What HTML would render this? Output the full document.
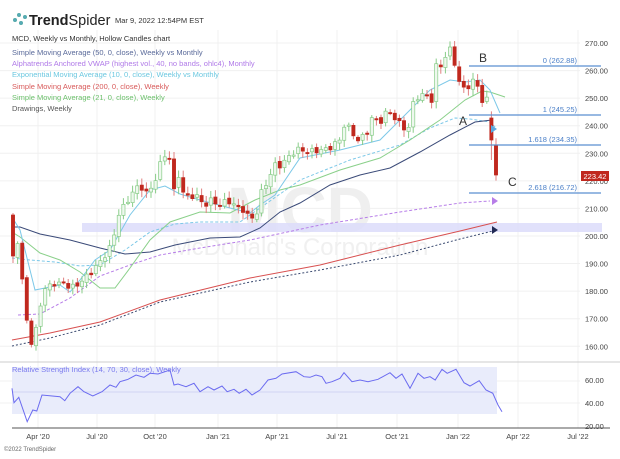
<!DOCTYPE html>
<html><head><meta charset="utf-8"><style>
body{margin:0;background:#fff;width:620px;height:454px;overflow:hidden;font-family:"Liberation Sans",sans-serif}
</style></head><body>
<svg id="s" width="620" height="454" xmlns="http://www.w3.org/2000/svg" font-family="Liberation Sans, sans-serif">
<g stroke="#f0f0f0" stroke-width="1" id="grid"></g>
<text x="300" y="232" font-size="64" font-weight="bold" fill="#efefef" text-anchor="middle">MCD</text>
<text x="300" y="255" font-size="24" fill="#f0f0f0" text-anchor="middle">McDonald's Corporation</text>
<rect x="82" y="223" width="520" height="9" fill="#dcdcfa" opacity="0.85"/>
<g id="ma" fill="none"></g>
<g id="c"></g>
<g stroke="#5b8fd0" stroke-width="1.2">
<line x1="469" y1="66" x2="601" y2="66"/><line x1="469" y1="115" x2="601" y2="115"/>
<line x1="469" y1="145" x2="601" y2="145"/><line x1="469" y1="193" x2="601" y2="193"/>
</g>
<g font-size="7.5" fill="#4a7fc8" text-anchor="end">
<text x="577" y="63">0 (262.88)</text><text x="577" y="112">1 (245.25)</text>
<text x="577" y="142">1.618 (234.35)</text><text x="577" y="190">2.618 (216.72)</text>
</g>
<g font-size="12" fill="#333"><text x="459" y="125">A</text><text x="479" y="62">B</text><text x="508" y="186">C</text></g>
<polygon points="491,125 491,133 497,129" fill="#5aa8e0"/>
<polygon points="492,197 492,205 498,201" fill="#b77de8"/>
<polygon points="492,226 492,234 498,230" fill="#222a55"/>
<g font-size="7.5" fill="#444" id="pax"></g>
<rect x="581" y="171" width="28" height="10" fill="#c0281e"/>
<text x="595" y="179" font-size="7.5" fill="#fff" text-anchor="middle">223.42</text>
<line x1="0" y1="362" x2="620" y2="362" stroke="#ccc"/>
<rect x="12" y="367" width="485" height="47" fill="#e9ecfb"/>
<line x1="12" y1="392" x2="497" y2="392" stroke="#c9ccf0" stroke-width="0.8"/>
<polyline id="rsi" fill="none" stroke="#6b6bf0" stroke-width="1"/>
<text x="12" y="372" font-size="7.5" fill="#7a7aee">Relative Strength Index (14, 70, 30, close), Weekly</text>
<g font-size="7.5" fill="#444"><text x="585" y="383">60.00</text><text x="585" y="406">40.00</text><text x="585" y="429">20.00</text></g>
<line x1="12" y1="428" x2="610" y2="428" stroke="#555" stroke-width="1"/>
<g font-size="7.5" fill="#444" text-anchor="middle" id="dax"></g>
<text x="4" y="451" font-size="6" fill="#666">©2022 TrendSpider</text>
<g stroke="#5aa" stroke-width="1" fill="#5ab">
<circle cx="15" cy="20" r="1.5"/><circle cx="19" cy="15" r="1.5"/><circle cx="21" cy="23" r="1.5"/><circle cx="25" cy="17" r="1.5"/>
</g>
<text x="29" y="25" font-size="14.5" font-weight="bold" fill="#222">Trend<tspan font-weight="normal">Spider</tspan></text>
<text x="115" y="23" font-size="7.5" fill="#333">Mar 9, 2022 12:54PM EST</text>
<g font-size="7.5">
<text x="12" y="41" fill="#333">MCD, Weekly vs Monthly, Hollow Candles chart</text>
<text x="12" y="55" fill="#5a6a9a">Simple Moving Average (50, 0, close), Weekly vs Monthly</text>
<text x="12" y="66" fill="#b07ae8">Alphatrends Anchored VWAP (highest vol., 40, no bands, ohlc4), Monthly</text>
<text x="12" y="77" fill="#6cc8e0">Exponential Moving Average (10, 0, close), Weekly vs Monthly</text>
<text x="12" y="89" fill="#d85a5a">Simple Moving Average (200, 0, close), Weekly</text>
<text x="12" y="100" fill="#6cc06c">Simple Moving Average (21, 0, close), Weekly</text>
<text x="12" y="111" fill="#555">Drawings, Weekly</text>
</g>
</svg>
<script>
(function(){
var NS="http://www.w3.org/2000/svg";
function el(p,t,a){var e=document.createElementNS(NS,t);for(var k in a)e.setAttribute(k,a[k]);p.appendChild(e);return e;}
var g=document.getElementById('grid');
var dx=[38,97,155,218,277,337,397,458,518,578],dl=["Apr '20","Jul '20","Oct '20","Jan '21","Apr '21","Jul '21","Oct '21","Jan '22","Apr '22","Jul '22"];
dx.forEach(function(x,i){el(g,'line',{x1:x,y1:30,x2:x,y2:428});var t=el(document.getElementById('dax'),'text',{x:x,y:439});t.textContent=dl[i];});
var pax=document.getElementById('pax');
for(var p=160;p<=270;p+=10){var y=43+(270-p)*2.757;el(g,'line',{x1:0,y1:y,x2:580,y2:y});var t=el(pax,'text',{x:585,y:y+3});t.textContent=p.toFixed(2);}
[381,403].forEach(function(y){el(g,'line',{x1:0,y1:y,x2:580,y2:y});});
function pl(pts,col,dash,w){var a={points:pts,stroke:col,'stroke-width':w||1};if(dash)a['stroke-dasharray']=dash;el(document.getElementById('ma'),'polyline',a);}
pl("12,340 50,333 100,322 160,300 250,278 320,265 400,245 460,231 497,222","#d85050");
pl("12,346 50,338 100,325 160,302 250,282 320,270 400,255 460,239 497,230","#3a4a70","2,2");
pl("18,315 40,314 70,298 100,276 130,265 160,255 200,248 250,240 320,225 400,212 460,203 490,201","#b77de8","3,2");
pl("12,258 30,260 55,262 80,266 100,265 125,250 150,232 175,224 200,222 240,222 300,180 350,160 400,145 430,128 455,118 470,119 490,122 496,128","#7cc8e8","3,2");
pl("12,227 20,227 40,234 70,240 100,248 125,254 150,252 175,245 210,238 240,237 260,228 280,212 300,203 330,185 360,175 390,168 420,152 450,135 475,122 492,120","#3a4a78");
pl("12,232 20,237 40,253 60,260 80,272 100,288 115,288 130,268 150,240 170,222 200,212 230,213 255,200 280,190 300,185 340,170 380,158 410,140 440,120 465,100 482,91 490,92 505,97","#8ad08a");
pl("12,217 20,230 35,290 50,287 60,285 70,292 80,280 95,260 110,250 130,215 150,190 165,186 180,194 200,200 230,208 250,213 260,205 275,195 300,158 340,150 380,140 410,110 430,90 450,80 465,82 480,80 490,90 500,113","#7cc8e8");
var K=[[13,256],[18,240],[23,290],[27,320],[31,345],[36,330],[40,305],[45,290],[50,285],[55,283],[60,285],[65,280],[70,290],[75,285],[80,283],[88,275],[95,268],[100,262],[105,255],[112,245],[118,215],[125,205],[132,193],[140,185],[148,195],[155,180],[160,165],[165,155],[170,158],[175,200],[180,165],[184,200],[190,195],[197,197],[205,205],[212,200],[220,205],[228,200],[236,207],[244,210],[250,220],[257,212],[262,190],[268,180],[275,165],[282,165],[290,155],[297,150],[303,150],[310,152],[318,150],[325,150],[332,146],[340,140],[345,122],[350,130],[358,140],[366,135],[372,118],[380,122],[388,110],[395,118],[402,127],[408,130],[414,100],[420,95],[426,95],[432,100],[437,60],[442,68],[447,50],[452,50],[457,75],[462,90],[467,88],[472,80],[477,85],[482,100],[487,100],[491,140],[496,175]];
function iy(x){for(var i=1;i<K.length;i++)if(x<=K[i][0]){var a=K[i-1],b=K[i];return a[1]+(b[1]-a[1])*(x-a[0])/(b[0]-a[0]);}return K[K.length-1][1];}
var cg=document.getElementById('c'),prev=215;
for(var i=0;i<106;i++){var x=13+i*4.6;var c=iy(x)+Math.sin(i*2.3)*3;if(i==105)c=175;if(i==104)c=140;
var o=prev+Math.sin(i*1.7)*1.5;if(i==105)o=145;if(i==104)o=118;
var hi=Math.min(o,c)-2-Math.abs(Math.sin(i*3.1))*5,lo=Math.max(o,c)+2+Math.abs(Math.cos(i*2.7))*5;
if(i==104)lo=160;
var up=c<o,col=up?"#88cc88":"#c0281e";
el(cg,'line',{x1:x,y1:hi,x2:x,y2:lo,stroke:up?"#88cc88":"#e08080","stroke-width":1});
var bt=Math.min(o,c),h=Math.max(1.2,Math.abs(o-c));
el(cg,'rect',{x:x-1.6,y:bt,width:3.2,height:h,fill:up?"#eef8ee":"#c0281e",stroke:col,"stroke-width":0.7});
prev=c;}
var R=[[30,85],[35,128],[47,112],[68,185],[82,150],[92,153],[105,105],[150,110],[162,122],[175,100],[195,80],[210,95],[232,108],[255,95],[275,75],[290,82],[300,65],[320,58],[340,45],[360,52],[375,40],[395,42],[425,30],[435,75],[445,72],[465,80],[485,70],[500,95],[520,80],[535,90],[555,78],[568,95],[585,88],[598,100],[615,88],[630,105],[650,90],[670,60],[690,55],[705,42],[740,35],[760,50],[775,52],[790,45],[805,50],[815,70],[830,65],[850,55],[860,38],[880,65],[900,60],[920,65],[945,58],[975,38],[990,55],[1005,42],[1025,85],[1045,40],[1060,55],[1075,50],[1088,60],[1105,28],[1118,40],[1140,28],[1160,68],[1175,78],[1198,62],[1215,90],[1232,100],[1245,135],[1255,155]];
document.getElementById('rsi').setAttribute('points',R.map(function(p){return (p[0]/2.5).toFixed(1)+","+(360+p[1]/3).toFixed(1);}).join(" "));
})();
</script>
</body></html>
